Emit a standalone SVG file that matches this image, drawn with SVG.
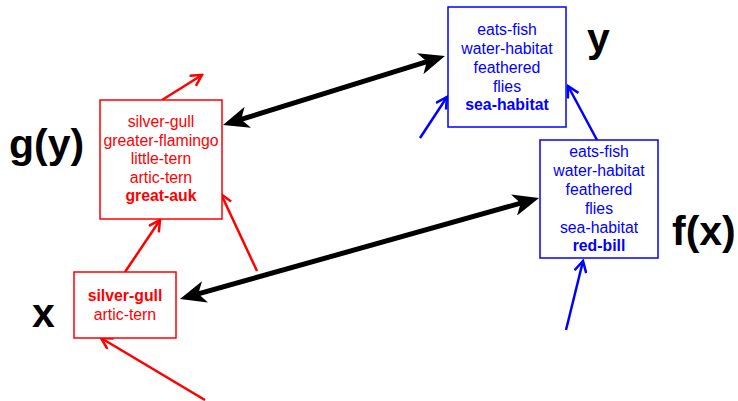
<svg xmlns="http://www.w3.org/2000/svg" width="738" height="401" viewBox="0 0 738 401">
<style>
.red rect{fill:#fff;stroke:#ff0000;stroke-width:1.5}
.blue rect{fill:#fff;stroke:#0000ff;stroke-width:1.5}
.red text{fill:#ff0000}
.blue text{fill:#0000ff}
text{font-family:"Liberation Sans",Arial,sans-serif;font-size:15.8px;text-anchor:middle}
.b{font-weight:bold}
.lbl{font-family:"Liberation Sans",Arial,sans-serif;font-size:41px;font-weight:bold;fill:#000;text-anchor:start}
.rl{stroke:#ff0000;stroke-width:2.5;fill:none;marker-end:url(#ar)}
.bl{stroke:#0000ff;stroke-width:2.5;fill:none;marker-end:url(#ab)}
.kl{stroke:#000;stroke-width:5;fill:none;marker-start:url(#ak);marker-end:url(#ak)}
</style>
<defs>
<marker id="ar" markerUnits="userSpaceOnUse" viewBox="0 0 14 14" markerWidth="14" markerHeight="14" refX="12" refY="7" orient="auto"><path d="M1,1 L12,7 L1,13" fill="none" stroke="#ff0000" stroke-width="2.5"/></marker>
<marker id="ab" markerUnits="userSpaceOnUse" viewBox="0 0 14 14" markerWidth="14" markerHeight="14" refX="12" refY="7" orient="auto"><path d="M1,1 L12,7 L1,13" fill="none" stroke="#0000ff" stroke-width="2.5"/></marker>
<marker id="ak" markerUnits="userSpaceOnUse" viewBox="0 0 26 22" markerWidth="26" markerHeight="22" refX="8" refY="11" orient="auto-start-reverse"><path d="M0,0 L26,11 L0,22 L7,11 Z" fill="#000"/></marker>
</defs>
<g id="connectors">
<line class="rl" x1="162" y1="100" x2="202" y2="75"/>
<line class="rl" x1="125" y1="272" x2="160" y2="220"/>
<line class="rl" x1="257" y1="271" x2="221" y2="194"/>
<line class="rl" x1="205" y1="400" x2="101" y2="338"/>
<line class="bl" x1="420" y1="138" x2="447" y2="97"/>
<line class="bl" x1="597" y1="140" x2="568" y2="86"/>
<line class="bl" x1="566" y1="330" x2="583" y2="261"/>
<line class="kl" x1="240.2" y1="119.7" x2="427.8" y2="61.3"/>
<line class="kl" x1="197.3" y1="294.1" x2="521.7" y2="202.9"/>
</g>
<g id="gy" class="red">
<rect x="100" y="100" width="122" height="119"/>
<text x="161" y="127">silver-gull</text>
<text x="161" y="146">greater-flamingo</text>
<text x="161" y="164">little-tern</text>
<text x="161" y="183">artic-tern</text>
<text x="161" y="201" class="b">great-auk</text>
</g>
<g id="x" class="red">
<rect x="74" y="272" width="102" height="66"/>
<text x="125" y="301" class="b">silver-gull</text>
<text x="125" y="320">artic-tern</text>
</g>
<g id="y" class="blue">
<rect x="448" y="7" width="118" height="120"/>
<text x="507" y="35">eats-fish</text>
<text x="507" y="54">water-habitat</text>
<text x="507" y="73">feathered</text>
<text x="507" y="92">flies</text>
<text x="507" y="110" class="b">sea-habitat</text>
</g>
<g id="fx" class="blue">
<rect x="540" y="140" width="118" height="118"/>
<text x="599" y="157">eats-fish</text>
<text x="599" y="176">water-habitat</text>
<text x="599" y="195">feathered</text>
<text x="599" y="214">flies</text>
<text x="599" y="233">sea-habitat</text>
<text x="599" y="251" class="b">red-bill</text>
</g>
<g id="labels">
<text class="lbl" x="9" y="158">g(y)</text>
<text class="lbl" x="32" y="327">x</text>
<text class="lbl" x="587" y="52">y</text>
<text class="lbl" x="672" y="245">f(x)</text>
</g>
</svg>
